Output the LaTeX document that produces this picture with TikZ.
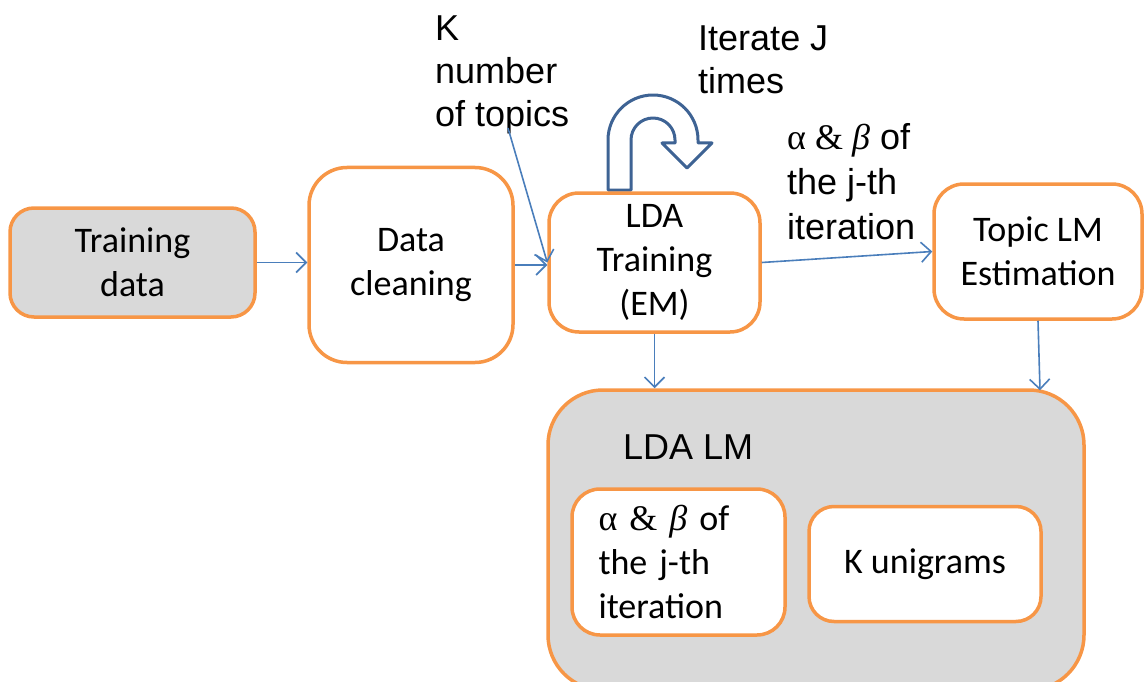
\documentclass[tikz,border=0pt]{standalone}
\usepackage{fontspec}
\setmainfont{Carlito}
\newfontfamily\arialf{Liberation Sans}
\newfontfamily\greekf{Liberation Serif}
\newcommand{\ab}{{\greekf α \& \itshape β}}
\usetikzlibrary{arrows.meta,calc}
\definecolor{boxorange}{HTML}{F79646}
\definecolor{boxgray}{HTML}{D9D9D9}
\definecolor{linkblue}{HTML}{4A7EBB}
\definecolor{turnblue}{HTML}{3E6394}
\tikzset{
  box/.style={draw=boxorange, line width=3.5pt, rectangle, fill=white, align=center, inner sep=0pt, font=\fontsize{36}{44}\selectfont},
  graybox/.style={box, fill=boxgray},
  link/.style={draw=linkblue, line width=1.6pt, -{Straight Barb[length=10pt,width=20pt]}},
  lbl/.style={font=\arialf\fontsize{36}{43}\selectfont, align=left, inner sep=0pt, anchor=north west},
}
\begin{document}
\begin{tikzpicture}[x=1pt,y=1pt]
\useasboundingbox (0,0) rectangle (1146,-682);
% U-turn block arrow
\draw[draw=turnblue, line width=3pt, fill=white, line join=round]
  (608,-190) -- (608,-140) arc[start angle=180,end angle=0,radius=45pt]
  -- (698,-143) -- (712,-143) -- (687,-168) -- (662,-143) -- (675,-143) -- (675,-140)
  arc[start angle=0,end angle=180,radius=22pt] -- (631,-190) -- cycle;
% boxes
\node[graybox, rounded corners=24pt, minimum width=245pt, minimum height=109pt] (td) at (132.5,-262.5) {Training\\data};
\node[box, rounded corners=38pt, minimum width=204pt, minimum height=195pt] (dc) at (411,-265) {Data\\cleaning};
\node[box, rounded corners=30pt, minimum width=211pt, minimum height=139pt] (lda) at (654.5,-262.5) {LDA\\Training\\(EM)};
\node[box, rounded corners=30pt, minimum width=208pt, minimum height=135pt] (tlm) at (1038,-251.5) {Topic LM\\Estimation};
\node[graybox, rounded corners=55pt, minimum width=536pt, minimum height=300pt] (big) at (816,-540) {};
\node[lbl, anchor=base west] (ldalm) at (623,-459) {LDA LM};
\node[box, rounded corners=28pt, minimum width=213pt, minimum height=146pt, text width=160pt, align=left] (abx) at (678.5,-562) {\ab{} of\\the j-th\\iteration};
\node[box, rounded corners=25pt, minimum width=232pt, minimum height=115pt] (ku) at (925,-564) {K unigrams};
% labels
\node[lbl] (klbl) at (435,-16) {K\\number\\of topics};
\node[lbl] (iter) at (698,-26) {Iterate J\\times};
\node[lbl, font=\arialf\fontsize{36}{45}\selectfont] (ablbl) at (787,-123) {\ab{} of\\the j-th\\iteration};
% connectors
\coordinate (kfoot) at (508,-128);
\draw[link] (td.east) -- (td.east -| dc.west);
\draw[link] (dc.east) -- (dc.east -| lda.west);
\draw[link] (kfoot) -- (lda.west);
\draw[link] (lda.east) -- (tlm.west);
\draw[link] (lda.south) -- (lda.south |- big.north);
\draw[link] (tlm.south) -- ([xshift=2pt,yshift=-2pt]tlm.south |- big.north);
\end{tikzpicture}
\end{document}
